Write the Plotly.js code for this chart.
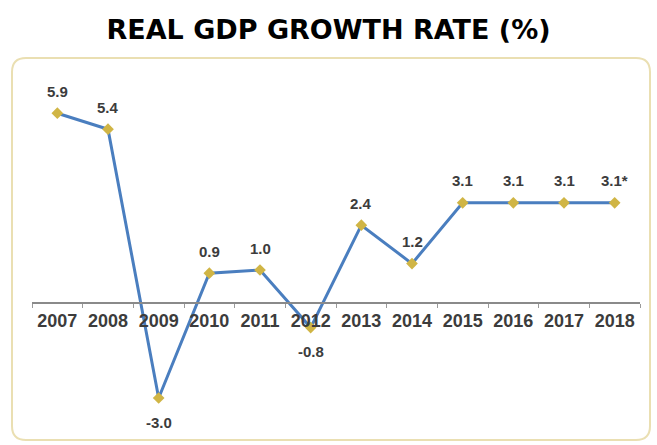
<!DOCTYPE html>
<html>
<head>
<meta charset="utf-8">
<script src="https://cdn.plot.ly/plotly-3.0.1.min.js"></script>
<style>html,body{margin:0;padding:0;background:#fff;}#chart{width:657px;height:445px;}</style>
</head>
<body>
<div id="chart"></div>
<script>
var years = ["2007","2008","2009","2010","2011","2012","2013","2014","2015","2016","2017","2018"];
var growth = [5.9, 5.4, -3.0, 0.9, 1.0, -0.8, 2.4, 1.2, 3.1, 3.1, 3.1, 3.1];
var labels = ["5.9","5.4","-3.0","0.9","1.0","-0.8","2.4","1.2","3.1","3.1","3.1","3.1*"];

var yRange = [-4, 6.5];
var zeroPos = (0 - yRange[0]) / (yRange[1] - yRange[0]);

var trace = {
  x: years, y: growth, type: "scatter", mode: "lines+markers",
  line: {color: "#4a7ebf", width: 3},
  marker: {symbol: "diamond", size: 9, color: "#d0b545", line: {width: 0}},
  hoverinfo: "skip", cliponaxis: false
};

var annotations = years.map(function(yr, i){
  var neg = growth[i] < 0;
  return {
    x: i, y: growth[i], xref: "x", yref: "y", text: labels[i], showarrow: false,
    yshift: neg ? -24 : 22, xanchor: "center", yanchor: "middle",
    font: {family: "Liberation Sans, Arial, sans-serif", size: 15, color: "#3c3c3c", weight: "bold"}
  };
});

// rounded frame in paper coords (plot area 32..640 x, 94..430 y)
function px(v){ return (v - 32) / 608; }
function py(v){ return (430 - v) / 336; }
var L = 12, R = 650, T = 58, B = 440, r = 14;
var framePath = "M " + px(L + r) + "," + py(T) +
  " L " + px(R - r) + "," + py(T) +
  " Q " + px(R) + "," + py(T) + " " + px(R) + "," + py(T + r) +
  " L " + px(R) + "," + py(B - r) +
  " Q " + px(R) + "," + py(B) + " " + px(R - r) + "," + py(B) +
  " L " + px(L + r) + "," + py(B) +
  " Q " + px(L) + "," + py(B) + " " + px(L) + "," + py(B - r) +
  " L " + px(L) + "," + py(T + r) +
  " Q " + px(L) + "," + py(T) + " " + px(L + r) + "," + py(T) + " Z";

var layout = {
  width: 657, height: 445,
  margin: {l: 32, r: 17, t: 94, b: 15},
  paper_bgcolor: "#ffffff", plot_bgcolor: "rgba(0,0,0,0)",
  showlegend: false,
  title: {text: "<b>REAL GDP GROWTH RATE (%)</b>", x: 0.5, xanchor: "center", y: 1 - 30/445, yanchor: "middle",
    font: {family: "DejaVu Sans, sans-serif", size: 27, color: "#000000"}},
  xaxis: {
    type: "category", range: [-0.5, 11.5], anchor: "free", position: zeroPos,
    showline: true, linecolor: "#8a8a8a", linewidth: 1.5,
    ticks: "outside", tickson: "boundaries", ticklen: 4, tickcolor: "#9a9a9a", tickwidth: 1,
    ticklabelstandoff: 2,
    showgrid: false, zeroline: false,
    tickfont: {family: "Liberation Sans, Arial, sans-serif", size: 18, color: "#3c3c3c", weight: "bold"}
  },
  yaxis: {range: yRange, showticklabels: false, ticks: "", showline: false, showgrid: false, zeroline: false},
  annotations: annotations,
  shapes: [{type: "path", xref: "paper", yref: "paper", path: framePath, layer: "below",
    line: {color: "#eadfb2", width: 2}, fillcolor: "rgba(0,0,0,0)"}]
};

Plotly.newPlot("chart", [trace], layout, {staticPlot: true, displayModeBar: false});
</script>
</body>
</html>
